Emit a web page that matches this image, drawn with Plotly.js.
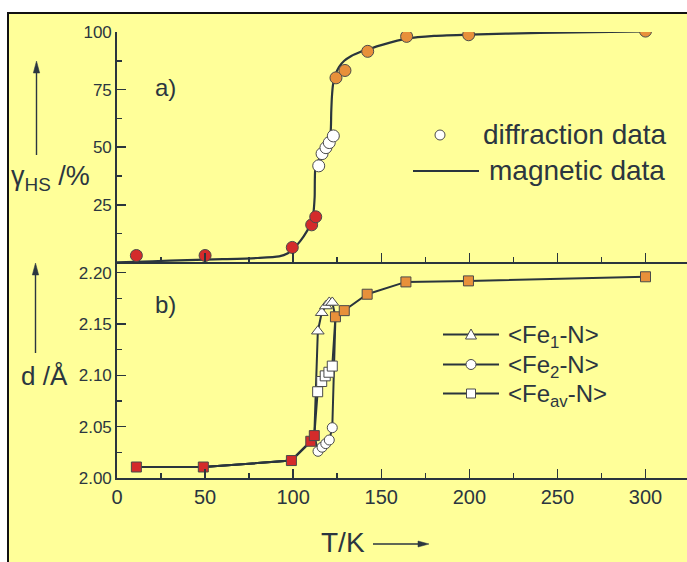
<!DOCTYPE html>
<html><head><meta charset="utf-8">
<script src="https://cdn.plot.ly/plotly-3.0.1.min.js"></script>
<style>html,body{margin:0;padding:0;background:#fff}#c{width:687px;height:562px}</style>
</head><body><div id="c"></div>
<script>
// ---- data: panel a) high-spin fraction ----
const magT = [0, 20, 40, 60, 80, 92, 97, 100, 104, 108, 110.5, 111.5, 112.2, 112.6, 114.5, 117, 119.5, 121.2, 121.6, 122, 122.6, 124, 126, 129, 133, 138, 143, 150, 165, 180, 200, 240, 300];
const magY = [0, 0.5, 1.0, 1.4, 1.9, 2.6, 4.0, 5.8, 9.2, 13.8, 17.5, 21.5, 28.5, 41, 44.5, 48.5, 52.5, 56, 65, 72, 77, 81.5, 84.8, 87.5, 89.6, 91.3, 92.6, 94.3, 97.2, 98.3, 98.9, 99.6, 100.3];
const gRedT = [11, 50, 99.5, 110.5, 112.8];
const gRedY = [3, 3, 6.5, 16.3, 19.8];
const gWhiteT = [114.5, 116.4, 118.6, 120.5, 122.8];
const gWhiteY = [41.9, 47.2, 49.8, 52.0, 54.9];
const gOrangeT = [124.3, 129.4, 142.3, 164.4, 199.6, 300];
const gOrangeY = [80.1, 83.3, 91.6, 98.1, 98.8, 100.4];

// ---- data: panel b) Fe-N distances ----
const lowT = [11, 49, 99, 110, 112];
const lowD = [2.0107, 2.0107, 2.017, 2.0358, 2.0413];
const highT = [124, 129, 142, 164, 199.5, 300];
const highD = [2.157, 2.163, 2.179, 2.191, 2.192, 2.196];
const fe1T = [114, 116.2, 118.5, 120.5, 122.2];
const fe1D = [2.143, 2.161, 2.1675, 2.171, 2.171];
const fe2T = [114.1, 116.4, 118.5, 120.5, 122.2];
const fe2D = [2.026, 2.030, 2.0335, 2.037, 2.049];
const feavT = [113.9, 116.2, 118.2, 120.3, 122.2];
const feavD = [2.084, 2.094, 2.0995, 2.103, 2.109];

const xTicks = [0, 50, 100, 150, 200, 250, 300];
const gTicks = [25, 50, 75, 100];
const dTicks = [2.00, 2.05, 2.10, 2.15, 2.20];

// ---- styling ----
const INK = '#2b3640';
const LINE = '#2a353d';
const YEL = '#FFFF99';
const RED = '#D42B2B';
const ORG = '#E8903A';
const EDGE = '#4a4a4a';
const FONT = 'Liberation Sans, Arial, sans-serif';

const L = 117, W = 570, B = 478, H = 446;
const px = v => (v - L) / W;           // pixel -> paper x
const py = v => (B - v) / H;           // pixel -> paper y
const split = py(262.4);

function mk(sym, color, size) {
  return {symbol: sym, color: color, size: size, line: {color: EDGE, width: 1}};
}
function pathPx(pts) {
  return 'M ' + pts.map(p => px(p[0]) + ' ' + py(p[1])).join(' L ') + ' Z';
}

const traces = [
  {x: magT, y: magY, xaxis: 'x2', yaxis: 'y2', mode: 'lines', line: {color: LINE, width: 2.2, shape: 'spline', smoothing: 0.6}, showlegend: false, hoverinfo: 'skip'},
  {x: gRedT, y: gRedY, xaxis: 'x2', yaxis: 'y2', mode: 'markers', marker: mk('circle', RED, 12), showlegend: false},
  {x: gWhiteT, y: gWhiteY, xaxis: 'x2', yaxis: 'y2', mode: 'markers', marker: mk('circle', '#ffffff', 12), showlegend: false},
  {x: gOrangeT, y: gOrangeY, xaxis: 'x2', yaxis: 'y2', mode: 'markers', marker: mk('circle', ORG, 12), showlegend: false},

  {x: lowT.concat(fe2T, highT.slice(0,1)), y: lowD.concat(fe2D, highD.slice(0,1)), mode: 'lines', line: {color: LINE, width: 2}, showlegend: false},
  {x: lowT.concat(feavT, highT.slice(0,1)), y: lowD.concat(feavD, highD.slice(0,1)), mode: 'lines', line: {color: LINE, width: 2}, showlegend: false},
  {x: lowT.concat(fe1T, highT.slice(0,1)), y: lowD.concat(fe1D, highD.slice(0,1)), mode: 'lines', line: {color: LINE, width: 2}, showlegend: false},
  {x: highT, y: highD, mode: 'lines', line: {color: LINE, width: 2}, showlegend: false},
  {x: fe2T, y: fe2D, mode: 'markers', marker: mk('circle', '#ffffff', 10), showlegend: false},
  {x: feavT, y: feavD, mode: 'markers', marker: mk('square', '#ffffff', 10), showlegend: false},
  {x: fe1T, y: fe1D, mode: 'markers', marker: mk('triangle-up', '#ffffff', 11), showlegend: false},
  {x: lowT, y: lowD, mode: 'markers', marker: mk('square', RED, 10), showlegend: false},
  {x: highT, y: highD, mode: 'markers', marker: mk('square', ORG, 10), showlegend: false}
];

const xCommon = {
  range: [0, (687 - L) / 1.7617], tickvals: xTicks, ticks: 'inside', ticklen: 9, tickwidth: 1.5, tickcolor: LINE,
  minor: {dtick: 25, tick0: 0, ticks: 'inside', ticklen: 5, tickwidth: 1.5, tickcolor: LINE},
  showline: true, linecolor: LINE, linewidth: 1.8, showgrid: false, zeroline: false, fixedrange: true
};

const layout = {
  width: 687, height: 562,
  margin: {l: L, r: 0, t: 32, b: 84},
  paper_bgcolor: '#ffffff', plot_bgcolor: 'rgba(0,0,0,0)',
  font: {family: FONT, color: INK},
  xaxis: Object.assign({}, xCommon, {anchor: 'y', tickfont: {size: 20, color: INK, family: FONT}}),
  xaxis2: Object.assign({}, xCommon, {anchor: 'y2', matches: 'x', showticklabels: false}),
  yaxis: {
    domain: [0, split], range: [2.0, 2.21], tickvals: dTicks, tickformat: '.2f',
    ticks: 'inside', ticklen: 9, tickwidth: 1.5, tickcolor: LINE,
    minor: {dtick: 0.025, tick0: 2.0, ticks: 'inside', ticklen: 5, tickwidth: 1.5, tickcolor: LINE},
    showline: true, linecolor: LINE, linewidth: 1.8, showgrid: false, zeroline: false,
    tickfont: {size: 17, color: INK, family: FONT}, fixedrange: true
  },
  yaxis2: {
    domain: [split, 1], range: [0, 100], tickvals: gTicks,
    ticks: 'inside', ticklen: 9, tickwidth: 1.5, tickcolor: LINE,
    minor: {dtick: 12.5, tick0: 0, ticks: 'inside', ticklen: 5, tickwidth: 1.5, tickcolor: LINE},
    showline: true, linecolor: LINE, linewidth: 1.8, showgrid: false, zeroline: false,
    tickfont: {size: 17, color: INK, family: FONT}, fixedrange: true
  },
  shapes: [
    {type: 'rect', xref: 'paper', yref: 'paper', x0: px(8), x1: px(720), y0: py(600), y1: py(13),
     fillcolor: YEL, line: {color: '#111', width: 2}, layer: 'below'},
    // legend a)
    {type: 'line', xref: 'paper', yref: 'paper', x0: px(413), x1: px(479), y0: py(171), y1: py(171), line: {color: LINE, width: 2}},
    {type: 'circle', xref: 'paper', yref: 'paper', x0: px(435), x1: px(445), y0: py(140), y1: py(130), fillcolor: '#fff', line: {color: EDGE, width: 1}},
    // legend b)
    {type: 'line', xref: 'paper', yref: 'paper', x0: px(443), x1: px(499), y0: py(334.5), y1: py(334.5), line: {color: LINE, width: 2}},
    {type: 'line', xref: 'paper', yref: 'paper', x0: px(443), x1: px(499), y0: py(364.5), y1: py(364.5), line: {color: LINE, width: 2}},
    {type: 'line', xref: 'paper', yref: 'paper', x0: px(443), x1: px(499), y0: py(393.5), y1: py(393.5), line: {color: LINE, width: 2}},
    {type: 'path', xref: 'paper', yref: 'paper', path: pathPx([[465.5, 339], [476.5, 339], [471, 329]]),
     fillcolor: '#fff', line: {color: EDGE, width: 1}},
    {type: 'circle', xref: 'paper', yref: 'paper', x0: px(466), x1: px(476), y0: py(369.5), y1: py(359.5), fillcolor: '#fff', line: {color: EDGE, width: 1}},
    {type: 'rect', xref: 'paper', yref: 'paper', x0: px(466.5), x1: px(475.5), y0: py(398), y1: py(389), fillcolor: '#fff', line: {color: EDGE, width: 1}},
    // axis-title arrows
    {type: 'line', xref: 'paper', yref: 'paper', x0: px(36.5), x1: px(36.5), y0: py(155), y1: py(70), line: {color: INK, width: 1.4}},
    {type: 'path', xref: 'paper', yref: 'paper', path: pathPx([[36.5, 61], [33.3, 73], [39.7, 73]]), fillcolor: INK, line: {color: INK, width: 0.5}},
    {type: 'line', xref: 'paper', yref: 'paper', x0: px(35.5), x1: px(35.5), y0: py(353), y1: py(272), line: {color: INK, width: 1.4}},
    {type: 'path', xref: 'paper', yref: 'paper', path: pathPx([[35.5, 263], [32.3, 275], [38.7, 275]]), fillcolor: INK, line: {color: INK, width: 0.5}},
    {type: 'line', xref: 'paper', yref: 'paper', x0: px(373), x1: px(420), y0: py(544), y1: py(544), line: {color: INK, width: 1.4}},
    {type: 'path', xref: 'paper', yref: 'paper', path: pathPx([[429, 544], [418, 541], [418, 547]]), fillcolor: INK, line: {color: INK, width: 0.5}}
  ],
  annotations: [
    {xref: 'paper', yref: 'paper', x: px(481), y: py(134), xanchor: 'left', yanchor: 'middle', showarrow: false,
     text: 'diffraction data', font: {size: 28, color: INK}},
    {xref: 'paper', yref: 'paper', x: px(487), y: py(170), xanchor: 'left', yanchor: 'middle', showarrow: false,
     text: 'magnetic data', font: {size: 28, color: INK}},
    {xref: 'paper', yref: 'paper', x: px(506), y: py(336), xanchor: 'left', yanchor: 'middle', showarrow: false,
     text: '&lt;Fe<sub>1</sub>-N&gt;', font: {size: 24, color: INK}},
    {xref: 'paper', yref: 'paper', x: px(506), y: py(366), xanchor: 'left', yanchor: 'middle', showarrow: false,
     text: '&lt;Fe<sub>2</sub>-N&gt;', font: {size: 24, color: INK}},
    {xref: 'paper', yref: 'paper', x: px(506), y: py(395), xanchor: 'left', yanchor: 'middle', showarrow: false,
     text: '&lt;Fe<sub>av</sub>-N&gt;', font: {size: 24, color: INK}},
    {xref: 'paper', yref: 'paper', x: px(153), y: py(87), xanchor: 'left', yanchor: 'middle', showarrow: false,
     text: 'a)', font: {size: 24, color: INK}},
    {xref: 'paper', yref: 'paper', x: px(153), y: py(304), xanchor: 'left', yanchor: 'middle', showarrow: false,
     text: 'b)', font: {size: 24, color: INK}},
    {xref: 'paper', yref: 'paper', x: px(9), y: py(178), xanchor: 'left', yanchor: 'middle', showarrow: false,
     text: 'γ<sub>HS</sub> /%', font: {size: 27, color: INK}},
    {xref: 'paper', yref: 'paper', x: px(19), y: py(376), xanchor: 'left', yanchor: 'middle', showarrow: false,
     text: 'd /Å', font: {size: 26, color: INK}},
    {xref: 'paper', yref: 'paper', x: px(343), y: py(542), xanchor: 'center', yanchor: 'middle', showarrow: false,
     text: 'T/K', font: {size: 28, color: INK}}
  ]
};

Plotly.newPlot('c', traces, layout, {staticPlot: true, displayModeBar: false});
</script></body></html>
